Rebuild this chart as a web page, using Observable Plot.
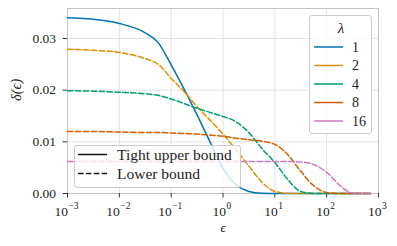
<!DOCTYPE html>
<html>
<head>
<meta charset="utf-8">
<script src="https://cdn.jsdelivr.net/npm/d3@7"></script>
<script src="https://cdn.jsdelivr.net/npm/@observablehq/plot@0.6"></script>
<style>
  html, body { margin: 0; padding: 0; background: white; }
  #chart { position: relative; width: 397px; height: 246px; }
  #chart svg text { font-family: "Liberation Serif", serif; }
</style>
</head>
<body>
<div id="chart"></div>
<script>
// ε sample points (log-spaced)
const eps = [0.001, 0.00316, 0.01, 0.0316, 0.0562, 0.1, 0.178, 0.316, 0.562, 1, 1.78, 3.16, 5.62, 10, 17.8, 31.6, 56.2, 100, 178, 316, 708];

// δ(ε) for each λ
const delta1  = [0.0340, 0.0337, 0.0329, 0.0311, 0.0292, 0.0249, 0.0202, 0.0152, 0.0100, 0.0048, 0.0017, 0.0004, 0.00005, 0, 0, 0, 0, 0, 0, 0, 0];
const delta2  = [0.0279, 0.0277, 0.0273, 0.0261, 0.0250, 0.0223, 0.0197, 0.0168, 0.0142, 0.0115, 0.0085, 0.0053, 0.0022, 0.0004, 0.00003, 0, 0, 0, 0, 0, 0];
const delta4  = [0.0199, 0.0198, 0.0196, 0.0193, 0.0190, 0.0183, 0.0174, 0.0165, 0.0157, 0.0149, 0.0139, 0.0118, 0.0087, 0.0060, 0.0027, 0.0004, 0.00002, 0, 0, 0, 0];
const delta8  = [0.0120, 0.0120, 0.0119, 0.0118, 0.0118, 0.0117, 0.0116, 0.0115, 0.0113, 0.0111, 0.0107, 0.0104, 0.0101, 0.0095, 0.0075, 0.0043, 0.0015, 0.0002, 0, 0, 0];
const delta16 = [0.0062, 0.0062, 0.0062, 0.0062, 0.0062, 0.0062, 0.0062, 0.0062, 0.0062, 0.0062, 0.0062, 0.0062, 0.0062, 0.0062, 0.0062, 0.0061, 0.0056, 0.0041, 0.0016, 0.0001, 0];

const lambdas = [1, 2, 4, 8, 16];
const seriesValues = [delta1, delta2, delta4, delta8, delta16];
const colors = ["#0173b2", "#de8f05", "#029e73", "#d55e00", "#cc78bc"];
const bounds = ["Tight upper bound", "Lower bound", "Lower bound", "Lower bound", "Lower bound"];
const styleLabels = ["Tight upper bound", "Lower bound"];

const xTicks = [1e-3, 1e-2, 1e-1, 1, 10, 100, 1000];
const xTickExps = ["−3", "−2", "−1", "0", "1", "2", "3"];
const yTicks = [0, 0.01, 0.02, 0.03];
const yTickLabels = ["0.00", "0.01", "0.02", "0.03"];

const rows = [];
lambdas.forEach((l, i) => {
  eps.forEach((e, j) => rows.push({eps: e, delta: seriesValues[i][j], lambda: l, bound: bounds[i]}));
});

const FONT = "Liberation Serif";
const dash = "5.5,2.4";

const plot = Plot.plot({
  width: 397,
  height: 246,
  marginLeft: 67,
  marginRight: 19,
  marginTop: 8,
  marginBottom: 53,
  style: {fontFamily: FONT, fontSize: "13px", color: "#222", background: "white"},
  x: {type: "log", domain: [1e-3, 1e3], axis: null, label: null},
  y: {domain: [0, 0.0358], axis: null, label: null},
  marks: [
    Plot.gridX(xTicks, {stroke: "#e3e3e3", strokeOpacity: 1, strokeWidth: 1}),
    Plot.gridY(yTicks, {stroke: "#e3e3e3", strokeOpacity: 1, strokeWidth: 1}),
    Plot.frame({stroke: "#c4c4c4", strokeWidth: 1}),
    Plot.axisY(yTicks, {tickSize: 4.5, tickPadding: 7, stroke: "#333", fontSize: 13.5, label: null,
      tickFormat: d => yTickLabels[yTicks.indexOf(d)]}),
    Plot.axisX(xTicks, {tickSize: 4.5, stroke: "#333", tickFormat: () => "", label: null}),
    ...lambdas.map((l, i) => Plot.line(rows.filter(r => r.lambda === l), {
      x: "eps", y: "delta", stroke: colors[i], strokeWidth: 1.5, curve: "monotone-x",
      strokeDasharray: i === 0 ? null : dash
    })),
    Plot.text(["δ(ϵ)"], {frameAnchor: "left", dx: -51, rotate: -90, fontSize: 14.5, fontStyle: "italic", fill: "#222"}),
    Plot.text(["ϵ"], {frameAnchor: "bottom", dy: 38, fontSize: 13, fontStyle: "italic", fill: "#222"})
  ]
});

const chart = document.getElementById("chart");
chart.appendChild(plot);

const svg = d3.select(plot);
const xs = d3.scaleLog().domain([1e-3, 1e3]).range([67, 378]);

// x tick labels: "10" + superscript exponent, centered on tick
const xl = svg.append("g").attr("fill", "#222");
xTicks.forEach((t, i) => {
  const neg = xTickExps[i].startsWith("−");
  const off = neg ? 1 : 3.5;
  const x = xs(t) + off;
  xl.append("text").attr("x", x).attr("y", 211.5).attr("dy", "0.35em").attr("text-anchor", "end").attr("font-size", 13.5).text("10");
  xl.append("text").attr("x", x + 0.5).attr("y", 206).attr("dy", "0.35em").attr("text-anchor", "start").attr("font-size", 9.5).text(xTickExps[i]);
});

// λ legend
const lg = svg.append("g").attr("fill", "#222");
lg.append("rect").attr("x", 309.5).attr("y", 15.5).attr("width", 62).attr("height", 118).attr("rx", 2.5)
  .attr("fill", "white").attr("fill-opacity", 0.8).attr("stroke", "#cccccc");
lg.append("text").attr("x", 341).attr("y", 28).attr("dy", "0.35em").attr("text-anchor", "middle").attr("font-size", 15).attr("font-style", "italic").text("λ");
lambdas.forEach((l, i) => {
  const y = 47 + i * 18.5;
  lg.append("line").attr("x1", 314).attr("x2", 343).attr("y1", y).attr("y2", y).attr("stroke", colors[i]).attr("stroke-width", 1.5);
  lg.append("text").attr("x", 352).attr("y", y).attr("dy", "0.35em").attr("text-anchor", "start").attr("font-size", 14).text(l);
});

// line-style legend
const sg = svg.append("g").attr("fill", "#222");
sg.append("rect").attr("x", 74.5).attr("y", 145.5).attr("width", 166).attr("height", 42).attr("rx", 2.5)
  .attr("fill", "white").attr("fill-opacity", 0.8).attr("stroke", "#cccccc");
styleLabels.forEach((s, i) => {
  const y = 154.5 + i * 19;
  sg.append("line").attr("x1", 78).attr("x2", 107).attr("y1", y).attr("y2", y).attr("stroke", "#111").attr("stroke-width", 1.5)
    .attr("stroke-dasharray", i === 0 ? null : dash);
  sg.append("text").attr("x", 117).attr("y", y).attr("dy", "0.35em").attr("text-anchor", "start").attr("font-size", 15.5).text(s);
});
</script>
</body>
</html>
